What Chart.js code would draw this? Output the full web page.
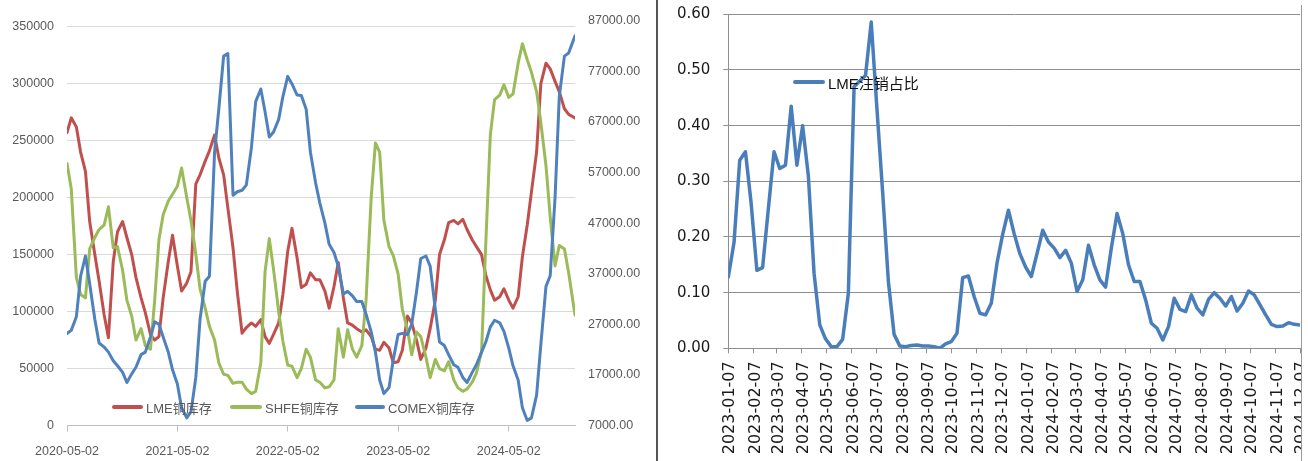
<!DOCTYPE html>
<html><head><meta charset="utf-8">
<script src="https://cdn.jsdelivr.net/npm/chart.js@4.4.1/dist/chart.umd.min.js"></script>
<style>
html,body{margin:0;padding:0;background:#fff;width:1308px;height:461px;overflow:hidden;position:relative;}
#wrapL{position:absolute;left:0;top:0;width:656px;height:461px;}
#wrapR{position:absolute;left:660px;top:0;width:642px;height:461px;overflow:hidden;}
.sep{position:absolute;}
.leg{position:absolute;height:20px;display:flex;align-items:center;white-space:nowrap;font-family:"Liberation Sans","Noto Sans CJK SC",sans-serif;}
.leg i{display:inline-block;height:4px;border-radius:2px;margin-right:3px;}
</style></head><body>
<div id="wrapL"><canvas id="cL" width="656" height="461"></canvas></div>
<div id="wrapR"><canvas id="cR" width="642" height="461"></canvas></div>
<div class="sep" style="left:656px;top:0;width:2px;height:461px;background:#555;"></div>
<div class="sep" style="left:1301px;top:5px;width:1px;height:456px;background:#999;"></div>

<div class="leg" style="left:112px;top:397px;font-size:13px;color:#595959;"><i style="width:31px;background:#C0504D"></i>LME铜库存</div>
<div class="leg" style="left:230px;top:397px;font-size:13px;color:#595959;"><i style="width:32px;background:#9BBB59"></i>SHFE铜库存</div>
<div class="leg" style="left:355px;top:397px;font-size:13px;color:#595959;"><i style="width:30px;background:#4F81BD"></i>COMEX铜库存</div>
<div class="leg" style="left:793px;top:72px;font-size:15px;color:#111;"><i style="width:32px;background:#4A7EBB"></i>LME注销占比</div>

<script>
// ---------- Left chart data (semi-monthly samples) ----------
const leftDates = [
"2020-05-02","2020-05-16","2020-06-02","2020-06-16","2020-07-02","2020-07-16","2020-08-02","2020-08-16","2020-09-02","2020-09-16","2020-10-02","2020-10-16","2020-11-02","2020-11-16","2020-12-02","2020-12-16",
"2021-01-02","2021-01-16","2021-02-02","2021-02-16","2021-03-02","2021-03-16","2021-04-02","2021-04-16","2021-05-02","2021-05-16","2021-06-02","2021-06-16","2021-07-02","2021-07-16","2021-08-02","2021-08-16","2021-09-02","2021-09-16","2021-10-02","2021-10-16","2021-11-02","2021-11-16","2021-12-02","2021-12-16",
"2022-01-02","2022-01-16","2022-02-02","2022-02-16","2022-03-02","2022-03-16","2022-04-02","2022-04-16","2022-05-02","2022-05-16","2022-06-02","2022-06-16","2022-07-02","2022-07-16","2022-08-02","2022-08-16","2022-09-02","2022-09-16","2022-10-02","2022-10-16","2022-11-02","2022-11-16","2022-12-02","2022-12-16",
"2023-01-02","2023-01-16","2023-02-02","2023-02-16","2023-03-02","2023-03-16","2023-04-02","2023-04-16","2023-05-02","2023-05-16","2023-06-02","2023-06-16","2023-07-02","2023-07-16","2023-08-02","2023-08-16","2023-09-02","2023-09-16","2023-10-02","2023-10-16","2023-11-02","2023-11-16","2023-12-02","2023-12-16",
"2024-01-02","2024-01-16","2024-02-02","2024-02-16","2024-03-02","2024-03-16","2024-04-02","2024-04-16","2024-05-02","2024-05-16","2024-06-02","2024-06-16","2024-07-02","2024-07-16","2024-08-02","2024-08-16","2024-09-02","2024-09-16","2024-10-02","2024-10-16","2024-11-02","2024-11-16","2024-12-07"
];
const lmeStock = [
257000,270000,262000,240000,223000,179000,150000,127000,97000,77000,
144000,170000,179000,165000,150000,130000,112000,99000,80000,75000,
78000,112000,144000,167000,140000,118000,125000,135000,212000,220000,
232000,241000,255000,235000,220000,191000,156000,118000,81000,86000,
90000,87000,93000,78000,72000,80000,90000,115000,153000,173000,
147000,121000,124000,134000,128000,128000,118000,103000,122000,143000,
112000,90000,88000,85000,82000,84000,78000,67000,66000,73000,
68000,55000,56000,66000,96000,90000,75000,58000,68000,85000,
110000,150000,163000,178000,180000,177000,181000,172000,163000,157000,
150000,132000,119000,110000,113000,120000,110000,103000,113000,148000,
176000,205000,240000,300000,318000,313000,302000,293000,278000,273000,
270000];
const shfeStock = [
230000,208000,130000,115000,112000,155000,165000,172000,176000,192000,
156000,157000,136000,110000,96000,75000,85000,70000,67000,110000,
163000,185000,197000,203000,210000,226000,200000,180000,150000,120000,
103000,87000,75000,55000,45000,44000,37000,38000,38000,32000,
28000,30000,55000,135000,164000,137000,100000,74000,53000,52000,
42000,50000,67000,60000,40000,38000,33000,34000,40000,85000,
60000,84000,67000,60000,70000,110000,200000,248000,240000,180000,
157000,149000,133000,102000,84000,62000,82000,78000,60000,42000,
58000,50000,48000,56000,40000,33000,30000,32000,38000,46000,
65000,160000,255000,286000,290000,299000,288000,291000,318000,335000,
321000,310000,293000,266000,228000,183000,140000,158000,155000,134000,
97000];
const comexStock = [
25200,25800,28500,36500,40500,35000,28000,23300,22500,21500,
19800,18800,17500,15500,17200,18500,21000,21500,24500,27500,
27000,24500,21500,18000,15200,10500,8500,9700,16500,28000,
35500,36500,61000,69500,80000,80500,52500,53200,53500,54500,
62000,71000,73500,69000,64000,65000,67500,72000,76000,74500,
72300,72200,69500,61000,55000,51000,47000,42800,41200,38500,
33000,33500,32600,31500,31500,29000,25500,21500,16000,13300,
14500,20000,25000,25200,25000,27000,33500,40000,40500,38500,
30000,23500,22800,21000,19000,18500,16500,15500,17500,19000,
21500,23500,26500,27800,27300,25600,22300,18800,16000,10500,
8000,8500,13000,23000,34500,36600,52000,72000,80000,80600,
84000];
const leftTickDates = ["2020-05-02","2021-05-02","2022-05-02","2023-05-02","2024-05-02"];
const leftAxisTicks = [0, 50000, 100000, 150000, 200000, 250000, 300000, 350000];
const rightAxisTicks = [7000, 17000, 27000, 37000, 47000, 57000, 67000, 77000, 87000];

// ---------- Right chart data (weekly) ----------
const rightDates = [
"2023-01-07","2023-01-14","2023-01-21","2023-01-28","2023-02-04","2023-02-11","2023-02-18","2023-02-25","2023-03-04","2023-03-11","2023-03-18","2023-03-25",
"2023-04-01","2023-04-08","2023-04-15","2023-04-22","2023-04-29","2023-05-06","2023-05-13","2023-05-20","2023-05-27","2023-06-03","2023-06-10","2023-06-17","2023-06-24",
"2023-07-01","2023-07-08","2023-07-15","2023-07-22","2023-07-29","2023-08-05","2023-08-12","2023-08-19","2023-08-26","2023-09-02","2023-09-09","2023-09-16","2023-09-23","2023-09-30",
"2023-10-07","2023-10-14","2023-10-21","2023-10-28","2023-11-04","2023-11-11","2023-11-18","2023-11-25","2023-12-02","2023-12-09","2023-12-16","2023-12-23","2023-12-30",
"2024-01-06","2024-01-13","2024-01-20","2024-01-27","2024-02-03","2024-02-10","2024-02-17","2024-02-24","2024-03-02","2024-03-09","2024-03-16","2024-03-23","2024-03-30",
"2024-04-06","2024-04-13","2024-04-20","2024-04-27","2024-05-04","2024-05-11","2024-05-18","2024-05-25","2024-06-01","2024-06-08","2024-06-15","2024-06-22","2024-06-29",
"2024-07-06","2024-07-13","2024-07-20","2024-07-27","2024-08-03","2024-08-10","2024-08-17","2024-08-24","2024-08-31","2024-09-07","2024-09-14","2024-09-21","2024-09-28",
"2024-10-05","2024-10-12","2024-10-19","2024-10-26","2024-11-02","2024-11-09","2024-11-16","2024-11-23","2024-11-30","2024-12-07"
];
const lmeCancelRatio = [
0.128,0.19,0.338,0.353,0.26,0.14,0.145,0.25,0.353,0.323,0.329,0.435,
0.329,0.40,0.31,0.135,0.042,0.017,0.003,0.003,0.016,0.099,0.47,0.48,0.49,
0.586,0.43,0.28,0.12,0.025,0.004,0.003,0.005,0.006,0.004,0.004,0.003,0.0,0.008,
0.012,0.027,0.127,0.13,0.093,0.063,0.06,0.081,0.153,0.205,0.248,0.206,0.17,
0.146,0.129,0.17,0.212,0.191,0.18,0.163,0.176,0.153,0.102,0.123,0.185,0.15,
0.123,0.11,0.18,0.242,0.206,0.15,0.12,0.12,0.087,0.045,0.036,0.015,0.039,
0.09,0.07,0.066,0.096,0.072,0.06,0.088,0.1,0.09,0.076,0.093,0.067,0.081,
0.103,0.096,0.078,0.06,0.043,0.039,0.04,0.046,0.043,0.042
];
const rightTickDates = ["2023-01-07","2023-02-07","2023-03-07","2023-04-07","2023-05-07","2023-06-07","2023-07-07","2023-08-07","2023-09-07","2023-10-07","2023-11-07","2023-12-07",
"2024-01-07","2024-02-07","2024-03-07","2024-04-07","2024-05-07","2024-06-07","2024-07-07","2024-08-07","2024-09-07","2024-10-07","2024-11-07","2024-12-07"];
const ratioAxisTicks = [0, 0.1, 0.2, 0.3, 0.4, 0.5, 0.6];

// ---------- helpers ----------
const dayOf = (s, b) => (Date.parse(s) - Date.parse(b)) / 86400000;
const toXY = (dates, vals, b) => dates.map((d, i) => ({x: dayOf(d, b), y: vals[i]}));
const labelFor = (list, b) => v => { const f = list.find(d => Math.abs(dayOf(d, b) - v) < 0.5); return f || ''; };
const setTicks = list => s => { s.ticks = list.map(v => ({value: v})); };
const fixVert = w => s => { s.width = w; s.paddingTop = 0; s.paddingBottom = 0; };

// ---------- Left chart ----------
const baseL = leftDates[0];
const fontL = {family: '"Liberation Sans", Arial, sans-serif', size: 12.5};
new Chart(document.getElementById('cL'), {
  type: 'line',
  data: {datasets: [
    {label: 'LME铜库存', data: toXY(leftDates, lmeStock, baseL), borderColor: '#C0504D', yAxisID: 'y', order: 3},
    {label: 'SHFE铜库存', data: toXY(leftDates, shfeStock, baseL), borderColor: '#9BBB59', yAxisID: 'y', order: 2},
    {label: 'COMEX铜库存', data: toXY(leftDates, comexStock, baseL), borderColor: '#4F81BD', yAxisID: 'y1', order: 1}
  ]},
  options: {
    responsive: false, animation: false, events: [],
    layout: {padding: {top: 20.7, left: 0, right: 0, bottom: 0}},
    elements: {line: {borderWidth: 3, tension: 0, borderJoinStyle: 'round', borderCapStyle: 'round'}, point: {radius: 0}},
    plugins: {legend: {display: false}, tooltip: {enabled: false}},
    scales: {
      x: {
        type: 'linear', min: 0, max: dayOf('2024-12-07', baseL),
        afterBuildTicks: s => { s.ticks = leftTickDates.map(d => ({value: dayOf(d, baseL)})); },
        ticks: {autoSkip: false, maxRotation: 0, minRotation: 0, callback: labelFor(leftTickDates, baseL), color: '#595959', font: fontL, padding: 13},
        grid: {drawOnChartArea: false, drawTicks: true, tickLength: 6, color: '#bfbfbf'},
        border: {display: true, color: '#bfbfbf'},
        afterFit: s => { s.height = 35.5; s.paddingLeft = 0; s.paddingRight = 0; }
      },
      y: {
        position: 'left', min: 0, max: 355260,
        afterBuildTicks: setTicks(leftAxisTicks),
        ticks: {autoSkip: false, callback: v => String(v), color: '#595959', font: fontL, padding: 13},
        grid: {color: '#d9d9d9', drawTicks: false},
        border: {display: false},
        afterFit: fixVert(67)
      },
      y1: {
        position: 'right', min: 7000, max: 87000,
        afterBuildTicks: setTicks(rightAxisTicks),
        ticks: {autoSkip: false, callback: v => v.toFixed(2), color: '#595959', font: fontL, padding: 13},
        grid: {display: false, drawTicks: false},
        border: {display: false},
        afterFit: fixVert(81)
      }
    }
  }
});

// ---------- Right chart ----------
const baseR = rightDates[0];
const fontR = {family: '"DejaVu Sans", sans-serif', size: 15};
new Chart(document.getElementById('cR'), {
  type: 'line',
  data: {datasets: [
    {label: 'LME注销占比', data: toXY(rightDates, lmeCancelRatio, baseR), borderColor: '#4A7EBB'}
  ]},
  options: {
    responsive: false, animation: false, events: [],
    layout: {padding: {top: 14.3, left: 0, right: 2, bottom: 0}},
    elements: {line: {borderWidth: 3.5, tension: 0, borderJoinStyle: 'round', borderCapStyle: 'round'}, point: {radius: 0}},
    plugins: {legend: {display: false}, tooltip: {enabled: false}},
    scales: {
      x: {
        type: 'linear', min: 0, max: dayOf('2024-12-07', baseR),
        afterBuildTicks: s => { s.ticks = rightTickDates.map(d => ({value: dayOf(d, baseR)})); },
        ticks: {autoSkip: false, maxRotation: 90, minRotation: 90, callback: labelFor(rightTickDates, baseR), color: '#1a1a1a', font: {family: '"DejaVu Sans", sans-serif', size: 16}, padding: 8, labelOffset: 2},
        grid: {drawOnChartArea: false, drawTicks: true, tickLength: 5, color: '#8e8e8e'},
        border: {display: true, color: '#8e8e8e'},
        afterFit: s => { s.height = 112.7; s.paddingLeft = 0; s.paddingRight = 0; }
      },
      y: {
        position: 'left', min: 0, max: 0.6,
        afterBuildTicks: setTicks(ratioAxisTicks),
        ticks: {autoSkip: false, callback: v => v.toFixed(2), color: '#1a1a1a', font: fontR, padding: 13},
        grid: {color: '#8e8e8e', drawTicks: true, tickLength: 5},
        border: {display: true, color: '#8e8e8e'},
        afterFit: fixVert(68.3)
      }
    }
  }
});
</script>
</body></html>
